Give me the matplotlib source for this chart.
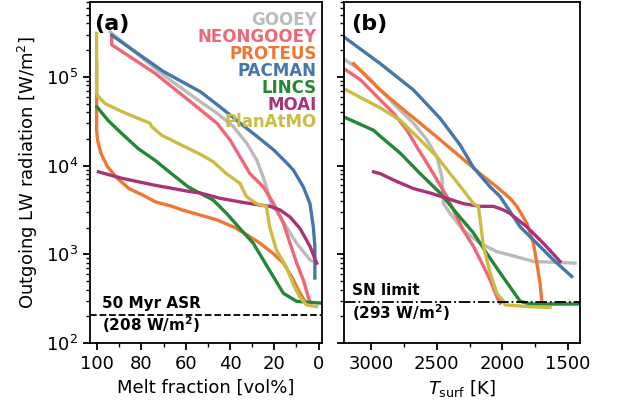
import matplotlib
matplotlib.use("Agg")
import matplotlib.pyplot as plt
from matplotlib.ticker import MultipleLocator

models = ["GOOEY", "NEONGOOEY", "PROTEUS", "PACMAN", "LINCS", "MOAI", "PlanAtMO"]
colors = ["#BBBBBB", "#EE6677", "#EE7733", "#4477AA", "#228833", "#AA3377", "#CCBB44"]

# Panel (a): melt fraction [vol%] vs OLR [W/m2]
melt = {
    "GOOEY": [94.1, 70.1, 53.4, 45.9, 38.5, 32.4, 27.9, 25.0, 22.7, 21.2,
              19.1, 14.6, 9.9, 3.9, 0.9],
    "NEONGOOEY": [93.4, 93.4, 73.9, 58.9, 53.4, 45.9, 40.0, 35.5, 31.0, 25.0,
                  20.5, 15.9, 12.9, 9.9, 6.9, 4.7, 3.9],
    "PROTEUS": [100.2, 100.2, 99.8, 98.3, 95.4, 90.9, 85.6, 79.6, 73.6, 66.1,
                61.6, 53.5, 46.1, 38.5, 32.4, 26.4, 20.5, 15.9, 12.2, 9.2, 6.2],
    "PACMAN": [93.4, 70.1, 53.4, 44.4, 35.4, 27.9, 20.4, 14.4, 11.4, 6.9,
               3.9, 2.4, 1.7, 1.7],
    "LINCS": [100.0, 94.9, 88.9, 81.4, 73.9, 66.4, 58.9, 47.5, 41.5, 35.5,
              29.5, 25.0, 20.5, 15.9, 9.9, -0.6],
    "MOAI": [99.4, 88.9, 73.9, 58.9, 53.4, 44.4, 35.4, 27.9, 21.9, 17.4,
             12.9, 8.4, 3.9, 0.9],
    "PlanAtMO": [100.2, 100.2, 96.4, 88.9, 81.4, 76.1, 75.4, 70.9, 61.9, 52.9,
                 47.5, 41.6, 35.5, 32.6, 28.1, 23.6, 22.1, 19.1, 14.6, 11.6,
                 8.6, 5.5, 1.0],
}
olr_melt = {
    "GOOEY": [3.2e5, 1.05e5, 5.25e4, 3.9e4, 2.75e4, 1.78e4, 1.15e4, 7400, 4900,
              3470, 3160, 2040, 1330, 865, 795],
    "NEONGOOEY": [2.75e5, 2.3e5, 1.1e5, 5.5e4, 4.27e4, 3.0e4, 1.95e4, 1.26e4, 8100,
                  5750, 3800, 2240, 1330, 795, 513, 331, 295],
    "PROTEUS": [1.48e5, 2.5e4, 1.95e4, 1.38e4, 9800, 7200, 5500, 4680, 3890, 3470,
                3160, 2770, 2450, 2040, 1660, 1330, 1020, 795, 562, 398, 295],
    "PACMAN": [2.95e5, 1.15e5, 6.8e4, 4.57e4, 3.0e4, 2.14e4, 1.51e4, 1.07e4, 8900,
               5750, 3720, 2040, 1230, 540],
    "LINCS": [4.57e4, 3.2e4, 2.3e4, 1.55e4, 1.15e4, 8100, 5750, 4070, 2880, 1950,
              1330, 865, 562, 363, 295, 282],
    "MOAI": [8500, 7200, 6000, 5130, 4900, 4270, 3890, 3630, 3470, 3160,
             2630, 1950, 1230, 795],
    "PlanAtMO": [3.1e5, 6.3e4, 5.0e4, 4.07e4, 3.4e4, 3.0e4, 2.75e4, 2.2e4, 1.7e4,
                 1.32e4, 1.1e4, 8100, 6300, 4470, 3720, 3470, 2040, 1120, 725,
                 468, 331, 269, 257],
}

# Panel (b): surface temperature [K] vs OLR [W/m2]
tsurf = {
    "GOOEY": [3210, 3081, 2954, 2802, 2676, 2574, 2498, 2460, 2448, 2397, 2296,
              2169, 2042, 1941, 1764, 1447],
    "NEONGOOEY": [3210, 3081, 2929, 2828, 2726, 2650, 2574, 2498, 2422, 2359,
                  2296, 2220, 2156, 2093, 2042, 2017],
    "PROTEUS": [3132, 2929, 2777, 2625, 2473, 2321, 2169, 2042, 1941, 1890,
                1814, 1764, 1738, 1713, 1700],
    "PACMAN": [3210, 2929, 2676, 2473, 2321, 2220, 2093, 2017, 1941,
               1865, 1738, 1612, 1472],
    "LINCS": [3210, 2980, 2929, 2777, 2625, 2473, 2346, 2220, 2118, 2017, 1941,
              1865, 1789, 1350],
    "MOAI": [2980, 2929, 2802, 2676, 2549, 2422, 2296, 2169, 2068, 1992, 1941,
             1814, 1688, 1561],
    "PlanAtMO": [3210, 2929, 2777, 2625, 2498, 2397, 2296, 2220, 2182, 2169, 2144,
                 2093, 2042, 1992, 1980, 1789, 1637],
}
olr_tsurf = {
    "GOOEY": [1.6e5, 1.2e5, 7.8e4, 4.57e4, 3.0e4, 1.95e4, 1.26e4, 7400, 3720, 2880,
              1860, 1330, 1070, 980, 830, 795],
    "NEONGOOEY": [1.25e5, 9.3e4, 5.5e4, 3.9e4, 2.5e4, 1.62e4, 1.07e4, 6900, 4470,
                  2880, 1860, 1230, 795, 513, 331, 282],
    "PROTEUS": [1.41e5, 7.1e4, 4.57e4, 3.0e4, 1.95e4, 1.26e4, 8100, 5750, 4270,
                3470, 2240, 1330, 795, 468, 295],
    "PACMAN": [2.85e5, 1.41e5, 7.1e4, 3.4e4, 1.7e4, 9500, 5750, 4470, 3020,
               2040, 1330, 865, 562],
    "LINCS": [3.55e4, 2.5e4, 2.14e4, 1.38e4, 8100, 4900, 2880, 1740, 1020, 617,
              427, 295, 275, 275],
    "MOAI": [8500, 8100, 6600, 5500, 4900, 4270, 3720, 3470, 3470, 3160, 2880,
             2040, 1330, 830],
    "PlanAtMO": [7.4e4, 4.47e4, 3.24e4, 1.95e4, 1.26e4, 8100, 5250, 3720, 3470,
                 2450, 1230, 617, 363, 295, 269, 257, 251],
}

ASR = 208
SN_LIMIT = 293

fig = plt.figure(figsize=(6.18, 4.15), dpi=100)
ax1 = fig.add_axes([0.1456, 0.1735, 0.375, 0.822])
ax2 = fig.add_axes([0.5566, 0.1735, 0.382, 0.822])

for name, c in zip(models, colors):
    ax1.plot(melt[name], olr_melt[name], color=c, lw=2.4, solid_joinstyle="round")
    ax2.plot(tsurf[name], olr_tsurf[name], color=c, lw=2.4, solid_joinstyle="round")

for ax in (ax1, ax2):
    ax.set_yscale("log")
    ax.set_ylim(100, 7e5)
    ax.tick_params(labelsize=13, width=1.3, length=5)
    ax.tick_params(which="minor", width=1.0, length=3)
    for s in ax.spines.values():
        s.set_linewidth(1.3)

ax1.set_xlim(103.2, -1.4)
ax1.xaxis.set_major_locator(MultipleLocator(20))
ax1.xaxis.set_minor_locator(MultipleLocator(10))
ax1.set_xlabel("Melt fraction [vol%]", fontsize=13)
ax1.set_ylabel("Outgoing LW radiation [W/m$^2$]", fontsize=13)

ax2.set_xlim(3205, 1409)
ax2.xaxis.set_major_locator(MultipleLocator(500))
ax2.xaxis.set_minor_locator(MultipleLocator(250))
ax2.set_xlabel(r"$T_\mathrm{surf}$ [K]", fontsize=13)
ax2.tick_params(axis="y", which="both", labelleft=False)

ax1.axhline(ASR, color="k", ls="--", lw=1.3)
ax1.text(98, 277, "50 Myr ASR", fontsize=11, fontweight="bold", va="center")
ax1.text(98, 163, "(208 W/m$^\\mathbf{2}$)", fontsize=11, fontweight="bold", va="center")

ax2.axhline(SN_LIMIT, color="k", ls="-.", lw=1.3)
ax2.text(3142, 395, "SN limit", fontsize=11, fontweight="bold", va="center")
ax2.text(3142, 218, "(293 W/m$^\\mathbf{2}$)", fontsize=11, fontweight="bold", va="center")

ax1.text(0.02, 0.935, "(a)", transform=ax1.transAxes, fontsize=16, fontweight="bold", va="center")
ax2.text(0.03, 0.935, "(b)", transform=ax2.transAxes, fontsize=16, fontweight="bold", va="center")

for i, (name, c) in enumerate(zip(models, colors)):
    ax1.text(0.978, 0.947 - 0.0499 * i, name, transform=ax1.transAxes, color=c,
             fontsize=12, fontweight="bold", ha="right", va="center")

fig.savefig("out.png", dpi=100)
